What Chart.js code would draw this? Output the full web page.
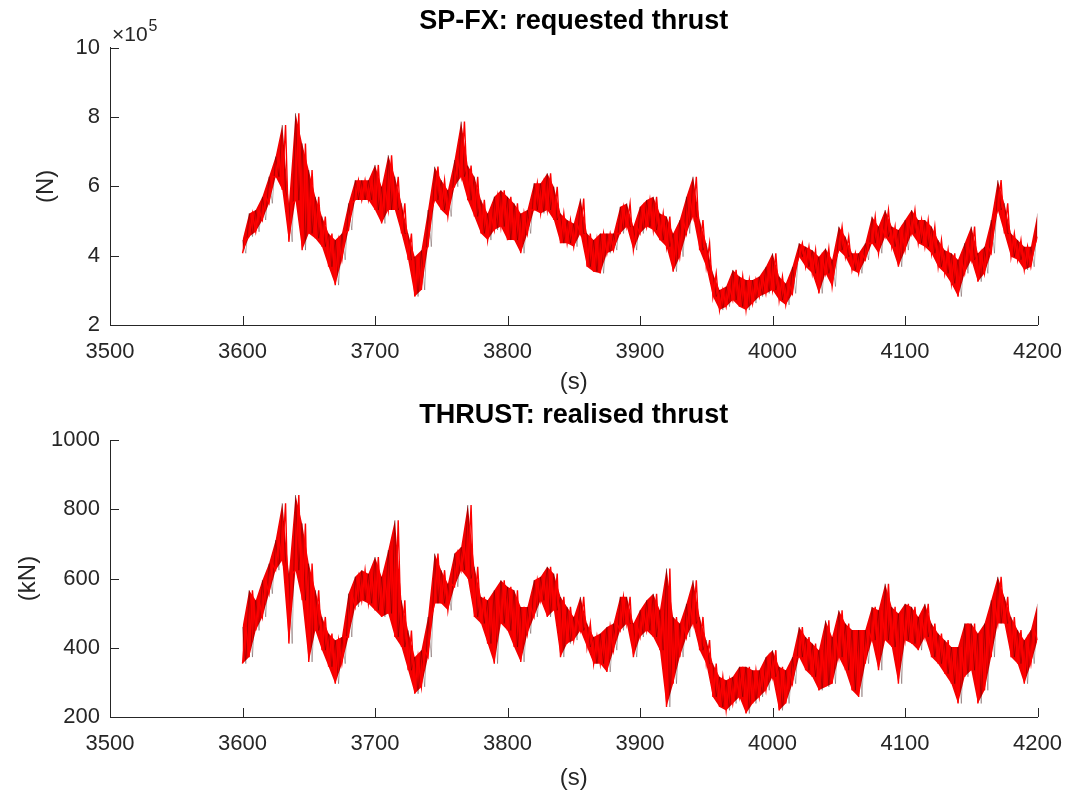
<!DOCTYPE html>
<html>
<head>
<meta charset="utf-8">
<title>Thrust</title>
<script src="https://cdn.jsdelivr.net/npm/chart.js@4.4.1/dist/chart.umd.min.js"></script>
<style>
  body { margin: 0; background: #fff; }
  #wrap { position: relative; width: 1076px; height: 794px; }
  canvas { position: absolute; left: 0; }
</style>
</head>
<body>
<div id="wrap">
  <canvas id="requestedChart" width="1076" height="397" style="top:0"></canvas>
  <canvas id="realisedChart" width="1076" height="397" style="top:397px"></canvas>
</div>
<script>
// samples start at 3600 s, one envelope reading every 5 s
const FIRST_SAMPLE = 3600;
const SAMPLE_STEP = 5;

const timeTicks = [3500, 3600, 3700, 3800, 3900, 4000, 4100, 4200];
const requestedTicks = [2, 4, 6, 8, 10];       // x 10^5 N
const realisedTicks = [200, 400, 600, 800, 1000]; // kN

// SP-FX requested thrust, x 10^5 N: upper / lower envelope of the signal
const requestedUpper = [
  4.45, 5.22, 5.32, 5.70, 6.28, 6.86, 7.77, 5.50, 8.11, 7.24,
  6.47, 5.70, 5.13, 4.64, 4.45, 4.64, 5.51, 6.18, 6.18, 6.18,
  6.62, 5.99, 6.90, 6.28, 5.51, 4.64, 3.97, 4.16, 5.32, 6.57,
  6.18, 5.89, 6.76, 7.87, 6.60, 6.28, 5.61, 5.22, 5.70, 5.89,
  5.70, 5.51, 5.22, 5.32, 6.09, 6.09, 6.38, 5.99, 5.22, 5.03,
  4.93, 5.65, 4.64, 4.45, 4.64, 4.64, 4.64, 5.41, 5.51, 4.84,
  5.41, 5.61, 5.70, 5.22, 5.13, 4.64, 5.03, 5.70, 6.28, 5.03,
  4.36, 3.49, 3.01, 3.11, 3.59, 3.40, 3.30, 3.30, 3.40, 3.68,
  4.07, 3.40, 3.20, 3.68, 4.36, 4.26, 4.16, 3.97, 4.21, 3.88,
  4.84, 4.55, 4.07, 4.07, 4.36, 5.13, 4.84, 5.32, 4.84, 4.74,
  5.03, 5.32, 5.03, 5.03, 4.84, 4.45, 4.16, 4.07, 3.88, 4.36,
  4.84, 4.07, 4.26, 5.03, 6.18, 5.51, 4.64, 4.45, 4.26, 4.26,
  5.22
];
const requestedLower = [
  4.07, 4.55, 4.69, 5.03, 5.51, 6.28, 5.90, 4.40, 5.60, 4.16,
  4.64, 4.50, 4.26, 3.68, 3.15, 3.88, 4.74, 5.61, 5.61, 5.61,
  5.32, 4.93, 5.32, 5.32, 4.64, 3.88, 2.82, 3.01, 4.26, 5.61,
  5.32, 5.13, 5.99, 6.28, 5.60, 5.13, 4.64, 4.45, 4.74, 4.84,
  4.45, 4.45, 4.07, 4.64, 5.32, 5.22, 5.32, 5.03, 4.36, 4.36,
  4.26, 4.64, 3.68, 3.54, 3.49, 4.07, 4.16, 4.64, 4.84, 4.16,
  4.64, 4.84, 4.74, 4.45, 4.26, 3.54, 3.97, 4.64, 5.13, 4.16,
  3.68, 2.82, 2.43, 2.53, 2.72, 2.53, 2.43, 2.63, 2.82, 2.91,
  3.01, 2.72, 2.58, 2.91, 3.97, 3.68, 3.49, 2.91, 3.49, 3.11,
  4.16, 3.97, 3.59, 3.49, 3.88, 4.36, 4.07, 4.55, 4.26, 3.68,
  4.16, 4.64, 4.36, 4.26, 4.07, 3.68, 3.49, 3.20, 2.82, 3.49,
  3.88, 3.25, 3.49, 4.07, 5.32, 4.64, 3.97, 3.88, 3.59, 3.68,
  4.55
];

// THRUST realised thrust, kN: upper / lower envelope of the signal
const realisedUpper = [
  460, 566, 537, 595, 643, 711, 817, 614, 841, 759,
  643, 566, 489, 441, 422, 431, 556, 605, 624, 614,
  662, 605, 682, 768, 537, 450, 373, 393, 489, 672,
  624, 585, 672, 691, 812, 634, 547, 537, 566, 595,
  576, 566, 518, 518, 595, 605, 634, 614, 547, 518,
  489, 547, 470, 431, 441, 460, 470, 547, 547, 470,
  508, 537, 556, 508, 629, 489, 470, 527, 595, 489,
  422, 354, 316, 306, 316, 345, 345, 335, 335, 373,
  393, 345, 335, 373, 460, 431, 412, 393, 479, 431,
  508, 470, 451, 451, 451, 518, 508, 585, 518, 499,
  527, 518, 489, 527, 470, 441, 422, 402, 402, 470,
  470, 441, 470, 537, 605, 547, 489, 451, 422, 451,
  527
];
const realisedLower = [
  354, 373, 450, 489, 556, 624, 653, 412, 624, 537,
  359, 450, 393, 345, 296, 354, 431, 518, 537, 528,
  508, 489, 499, 431, 402, 335, 267, 287, 373, 528,
  528, 508, 576, 624, 600, 489, 470, 412, 354, 470,
  450, 402, 359, 441, 489, 537, 489, 508, 373, 412,
  422, 450, 402, 354, 354, 330, 393, 450, 470, 373,
  431, 450, 431, 393, 229, 296, 373, 431, 470, 393,
  354, 258, 229, 219, 239, 258, 210, 239, 258, 277,
  316, 219, 239, 296, 373, 335, 316, 277, 287, 296,
  373, 335, 277, 258, 354, 422, 335, 422, 402, 296,
  422, 412, 393, 431, 373, 354, 325, 296, 239, 316,
  335, 239, 277, 373, 470, 470, 373, 354, 296, 354,
  422
];

Chart.defaults.font.family = '"Liberation Sans", Arial, Helvetica, sans-serif';
Chart.defaults.color = '#262626';

const AXIS_COLOR = '#262626';

function sampleTime(i) {
  return FIRST_SAMPLE + i * SAMPLE_STEP;
}

// jagged trace: swings between the two envelopes every half step
function zigzag(upper, lower, flip) {
  const pts = [];
  upper.forEach((u, i) => {
    const t = sampleTime(i);
    pts.push({ x: t, y: flip ? lower[i] : u });
    if (i < upper.length - 1) {
      pts.push({ x: t + SAMPLE_STEP / 2, y: flip ? u : lower[i] });
    }
  });
  return pts;
}

function envelope(values) {
  return values.map((v, i) => ({ x: sampleTime(i), y: v }));
}

// matlab style tick marks pointing into the axes, plus the optional exponent
const inwardTicks = {
  id: 'inwardTicks',
  afterDraw(chart, args, opts) {
    const { ctx, chartArea, scales } = chart;
    const len = 9;
    ctx.save();
    ctx.strokeStyle = AXIS_COLOR;
    ctx.lineWidth = 1;
    ctx.beginPath();
    scales.x.ticks.forEach(t => {
      const px = Math.round(scales.x.getPixelForValue(t.value)) + 0.5;
      ctx.moveTo(px, chartArea.bottom);
      ctx.lineTo(px, chartArea.bottom - len);
    });
    scales.y.ticks.forEach(t => {
      const py = Math.round(scales.y.getPixelForValue(t.value)) + 0.5;
      ctx.moveTo(chartArea.left, py);
      ctx.lineTo(chartArea.left + len, py);
    });
    ctx.stroke();

    if (opts.exponent) {
      ctx.fillStyle = AXIS_COLOR;
      ctx.textBaseline = 'alphabetic';
      ctx.font = '21px "Liberation Sans", Arial, sans-serif';
      const base = '\u00d710';
      ctx.fillText(base, chartArea.left + 2, chartArea.top - 7);
      const w = ctx.measureText(base).width;
      ctx.font = '16px "Liberation Sans", Arial, sans-serif';
      ctx.fillText(opts.exponent, chartArea.left + 3 + w, chartArea.top - 17);
    }
    ctx.restore();
  }
};

function buildChart(id, cfg) {
  const ctx = document.getElementById(id).getContext('2d');
  return new Chart(ctx, {
    type: 'line',
    data: {
      datasets: [
        {
          // requested / realised trace
          data: zigzag(cfg.upper, cfg.lower, true),
          borderColor: '#ff0000',
          borderWidth: 1.4,
          pointRadius: 0,
          fill: false
        },
        {
          // reference trace underneath, mostly hidden by the red one
          data: zigzag(cfg.upper, cfg.lower, false),
          borderColor: 'rgba(40,0,0,0.45)',
          borderWidth: 0.7,
          pointRadius: 0,
          fill: false
        },
        {
          data: envelope(cfg.upper),
          borderWidth: 0,
          borderColor: 'rgba(0,0,0,0)',
          backgroundColor: '#f20000',
          pointRadius: 0,
          fill: '+1'
        },
        {
          data: envelope(cfg.lower),
          borderWidth: 0,
          borderColor: 'rgba(0,0,0,0)',
          pointRadius: 0,
          fill: false
        }
      ]
    },
    options: {
      responsive: false,
      animation: false,
      events: [],
      devicePixelRatio: 1,
      layout: { padding: { top: 0, left: 0, right: 30, bottom: 0 } },
      elements: { line: { tension: 0 } },
      plugins: {
        legend: { display: false },
        tooltip: { enabled: false },
        title: {
          display: true,
          text: cfg.title,
          fullSize: false,
          color: '#000',
          font: { size: 27, weight: 'bold' },
          padding: cfg.titlePadding
        },
        inwardTicks: { exponent: cfg.exponent }
      },
      scales: {
        x: {
          type: 'linear',
          min: 3500,
          max: 4200,
          afterFit: s => { s.height = cfg.xAxisHeight; },
          afterBuildTicks: s => { s.ticks = timeTicks.map(v => ({ value: v })); },
          grid: { display: false, drawTicks: false },
          border: { display: true, color: AXIS_COLOR, width: 1 },
          ticks: {
            padding: 14,
            autoSkip: false,
            maxRotation: 0,
            font: { size: 22 },
            callback: v => String(v)
          },
          title: {
            display: true,
            text: '(s)',
            font: { size: 24 },
            padding: { top: 0, bottom: cfg.xTitlePad }
          }
        },
        y: {
          type: 'linear',
          min: cfg.yTicks[0],
          max: cfg.yTicks[cfg.yTicks.length - 1],
          afterFit: s => { s.width = 110; },
          afterBuildTicks: s => { s.ticks = cfg.yTicks.map(v => ({ value: v })); },
          grid: { display: false, drawTicks: false },
          border: { display: true, color: AXIS_COLOR, width: 1 },
          ticks: {
            padding: 10,
            font: { size: 22 },
            callback: v => String(v)
          },
          title: {
            display: true,
            text: cfg.yLabel,
            font: { size: 24 },
            padding: { top: cfg.yTitlePad, bottom: 0 }
          }
        }
      }
    },
    plugins: [inwardTicks]
  });
}

buildChart('requestedChart', {
  title: 'SP-FX: requested thrust',
  titlePadding: { top: 5.4, bottom: 10 },
  upper: requestedUpper,
  lower: requestedLower,
  yTicks: requestedTicks,
  yLabel: '(N)',
  yTitlePad: 32,
  xAxisHeight: 72,
  xTitlePad: 0,
  exponent: '5'
});

buildChart('realisedChart', {
  title: 'THRUST: realised thrust',
  titlePadding: { top: 2.4, bottom: 8.2 },
  upper: realisedUpper,
  lower: realisedLower,
  yTicks: realisedTicks,
  yLabel: '(kN)',
  yTitlePad: 13.6,
  xAxisHeight: 77,
  xTitlePad: 1.6,
  exponent: null
});
</script>
</body>
</html>
